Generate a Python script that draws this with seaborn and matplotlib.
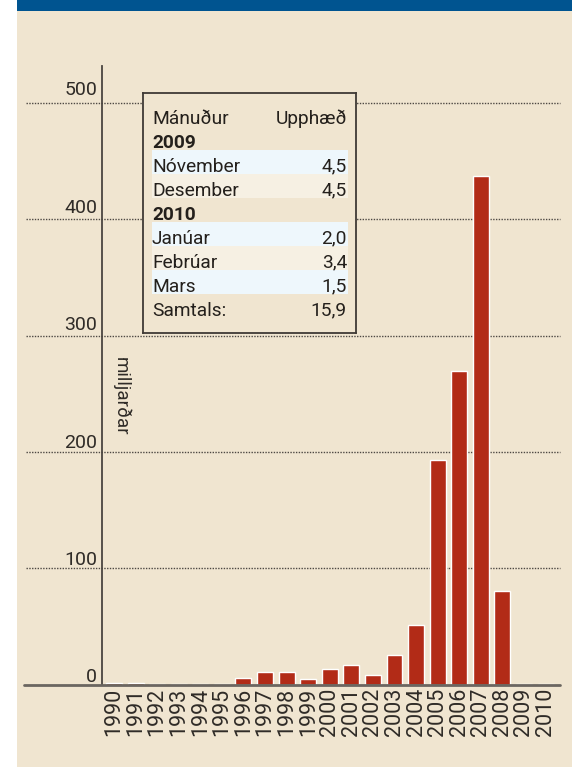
import matplotlib
matplotlib.use('Agg')
import matplotlib.pyplot as plt
import seaborn as sns
import pandas as pd
from matplotlib.patches import Rectangle
from matplotlib.transforms import blended_transform_factory

# bar data (milljarðar per year)
years = ['1990', '1991', '1992', '1993', '1994', '1995', '1996', '1997', '1998', '1999', '2000',
         '2001', '2002', '2003', '2004', '2005', '2006', '2007', '2008', '2009', '2010']
values = [1.5, 1.5, 0.3, 0.5, 0.5, 0.3, 5.6, 10.7, 10.7, 4.7, 13.3,
          17.0, 8.2, 25.6, 51.2, 193.0, 269.6, 437.2, 80.5, 0.8, 0.8]
y_ticks = [0, 100, 200, 300, 400, 500]
y_title = 'milljarðar'

# inset table
table_header = ['Mánuður', 'Upphæð']
table_rows = ['2009', 'Nóvember', 'Desember', '2010', 'Janúar', 'Febrúar', 'Mars', 'Samtals:']
table_amounts = ['', '4,5', '4,5', '', '2,0', '3,4', '1,5', '15,9']
table_bold = [True, False, False, True, False, False, False, False]
table_shade = [None, 'blue', 'cream', None, 'blue', 'cream', 'blue', None]

cream = '#f0e5d0'
red = '#b22b17'
band_blue = '#005490'
shade_colors = {'blue': '#eef7fc', 'cream': '#f6f0e3'}
text_dark = '#24201c'
tick_col = '#2f2b27'

sns.set_theme(style='white')
plt.rcParams['font.family'] = ['Roboto', 'DejaVu Sans']

W, H = 581, 767
fig = plt.figure(figsize=(W / 100, H / 100), dpi=100)
fig.patch.set_facecolor('white')

# cream panel + blue strip at the top
fig.add_artist(Rectangle((17 / W, 0), 555 / W, (H - 10) / H, transform=fig.transFigure,
                         facecolor=cream, edgecolor='none', zorder=0))
fig.add_artist(Rectangle((17 / W, (H - 10.5) / H), 555 / W, 10.5 / H, transform=fig.transFigure,
                         facecolor=band_blue, edgecolor='none', zorder=0))

# main axes: left spine at x=102px, baseline at y=684.5px, top at 65.7px
ax = fig.add_axes([102 / W, (H - 684.5) / H, 458 / W, 618.8 / H])
ax.patch.set_alpha(0)

df = pd.DataFrame({'year': years, 'value': values})
sns.barplot(data=df, x='year', y='value', color=red, saturation=1, width=0.74, ax=ax, zorder=2)

ax.set_xlim(-0.556, 20.67)
ax.set_ylim(0, 532)
ax.set_xlabel('')
ax.set_ylabel('')

for s in ['top', 'right', 'bottom']:
    ax.spines[s].set_visible(False)
ax.spines['left'].set_color('#4a4540')
ax.spines['left'].set_linewidth(1.3)

# dotted gridlines running out past the axis to the left
for v in y_ticks[1:]:
    ax.axhline(v, xmin=-0.165, xmax=1, clip_on=False, color='#4d4843', lw=1.0,
               linestyle=(0, (1, 1)), zorder=1)
ax.axhline(0, xmin=-0.17, xmax=1, clip_on=False, color='#6b6660', lw=2.0, zorder=3)

# y labels sit above their gridline
ax.set_yticks([])
for v in y_ticks:
    ax.annotate(str(v), xy=(0, v), xycoords=('axes fraction', 'data'),
                xytext=(-5, 2 + 1.1 * v / 100), textcoords='offset pixels',
                ha='right', va='baseline', fontsize=14, color=tick_col)

ax.set_xticks(range(len(years)))
ax.set_xticklabels(years, rotation=90, fontsize=15.5, color=tick_col, va='top')
ax.tick_params(axis='x', length=0, pad=2.5)

ax.text(0.041, 248, y_title, transform=blended_transform_factory(ax.transAxes, ax.transData),
        rotation=270, ha='center', va='center', fontsize=13.5, color=tick_col)

# inset table box (pixel units inside the box)
tab = fig.add_axes([143 / W, (H - 333) / H, 213 / W, 240 / H], zorder=5)
tab.set_facecolor(cream)
tab.set_xlim(0, 213)
tab.set_ylim(240, 0)
tab.set_xticks([])
tab.set_yticks([])
for s in tab.spines.values():
    s.set_color('#3f3a35')
    s.set_linewidth(1.3)

fs = 13.8
tab.text(9, 30.7, table_header[0], ha='left', va='baseline', fontsize=fs, color=text_dark)
tab.text(204, 30.7, table_header[1], ha='right', va='baseline', fontsize=fs, color=text_dark)
for k, (name, amt) in enumerate(zip(table_rows, table_amounts)):
    i = k + 1
    if table_shade[k]:
        tab.add_patch(Rectangle((8.7, 8.7 + 24 * i), 196.3, 24,
                                facecolor=shade_colors[table_shade[k]], edgecolor='none', zorder=0))
    w = 'bold' if table_bold[k] else 'normal'
    tab.text(9, 30.7 + 24 * i, name, ha='left', va='baseline', fontsize=fs,
             fontweight=w, color=text_dark)
    if amt:
        tab.text(204, 30.7 + 24 * i, amt, ha='right', va='baseline', fontsize=fs, color=text_dark)

fig.savefig('out.png', dpi=100, facecolor=fig.get_facecolor())
